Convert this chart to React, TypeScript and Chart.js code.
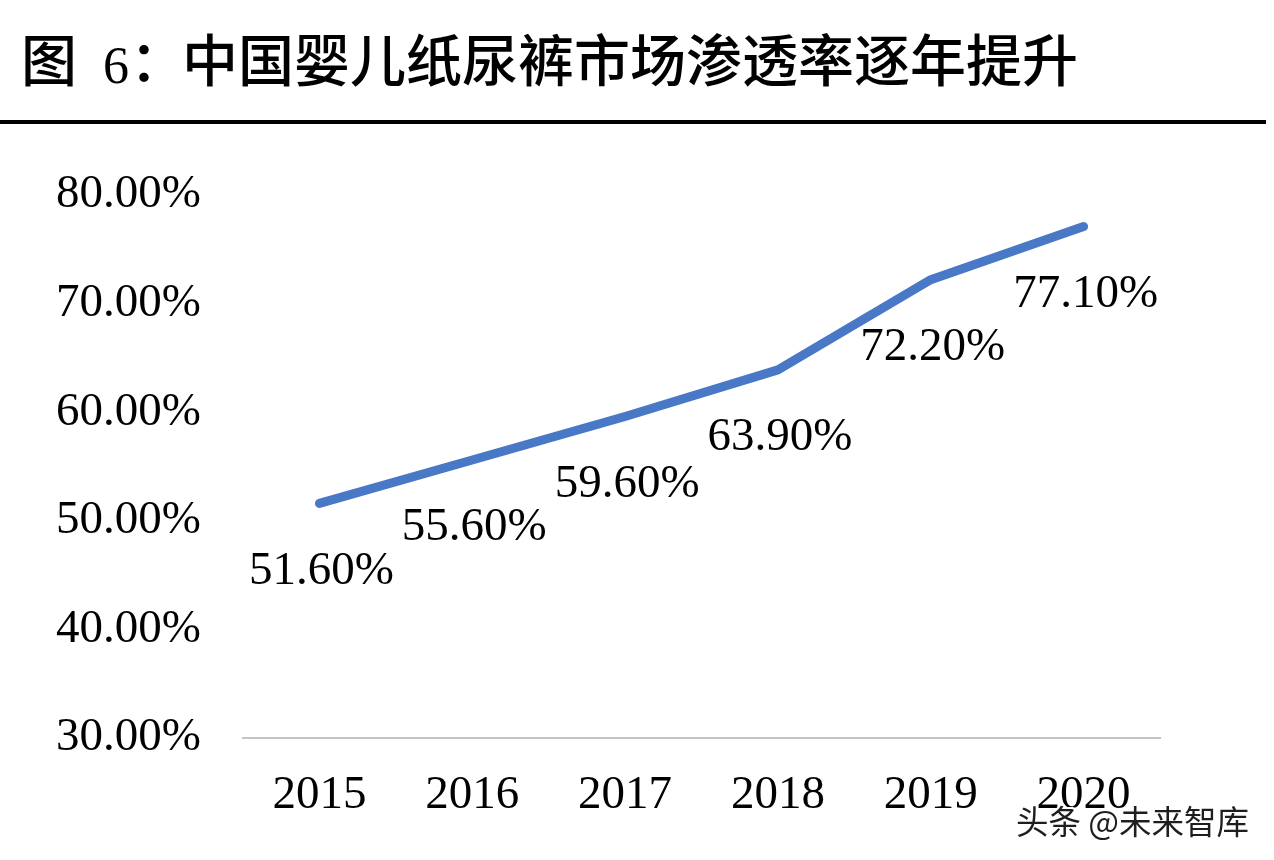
import React, { useEffect, useRef } from "react";
import { Chart, registerables } from "chart.js";

Chart.register(...registerables);

const years = ["2015", "2016", "2017", "2018", "2019", "2020"];
const penetration = [51.6, 55.6, 59.6, 63.9, 72.2, 77.1];
const yMin = 30;
const yMax = 80;
const yStep = 10;
const titlePrefix = "图";
const titleNumber = "6";
const titleColon = "：";
const titleText = "中国婴儿纸尿裤市场渗透率逐年提升";
const watermark = "头条 @未来智库";

const SERIF = "'Liberation Serif', 'Times New Roman', serif";
const CJK = "'Noto Sans CJK SC', 'Noto Sans', sans-serif";

const decorPlugin = {
  id: "decor",
  beforeDraw(chart: any) {
    const ctx = chart.ctx;
    ctx.save();
    ctx.fillStyle = "#ffffff";
    ctx.fillRect(0, 0, chart.width, chart.height);
    ctx.fillStyle = "#000000";
    ctx.textAlign = "left";
    ctx.textBaseline = "middle";
    ctx.font = `500 56px ${CJK}`;
    ctx.fillText(titlePrefix, 21, 60);
    ctx.font = `400 52px ${SERIF}`;
    ctx.textBaseline = "alphabetic";
    ctx.fillText(titleNumber, 103, 83);
    ctx.textBaseline = "middle";
    ctx.font = `500 56px ${CJK}`;
    ctx.fillText(titleColon, 130, 60);
    ctx.fillText(titleText, 182, 60);
    ctx.fillRect(0, 120, 1266, 4);
    ctx.restore();
  },
  afterDatasetsDraw(chart: any) {
    const ctx = chart.ctx;
    const meta = chart.getDatasetMeta(0);
    ctx.save();
    ctx.fillStyle = "#000000";
    ctx.font = `400 47px ${SERIF}`;
    ctx.textAlign = "center";
    ctx.textBaseline = "middle";
    meta.data.forEach((pt: any, i: number) => {
      const v = chart.data.datasets[0].data[i] as number;
      ctx.fillText(v.toFixed(2) + "%", pt.x + 2, pt.y + 68);
    });
    ctx.restore();
  },
  afterDraw(chart: any) {
    const ctx = chart.ctx;
    ctx.save();
    ctx.font = `400 32.5px ${CJK}`;
    ctx.textAlign = "left";
    ctx.textBaseline = "middle";
    ctx.lineWidth = 4;
    ctx.strokeStyle = "rgba(255,255,255,0.95)";
    ctx.lineJoin = "round";
    ctx.strokeText(watermark, 1016, 822);
    ctx.fillStyle = "#1e1e1e";
    ctx.fillText(watermark, 1016, 822);
    ctx.restore();
  },
};

export default function App() {
  const ref = useRef<HTMLCanvasElement>(null);
  useEffect(() => {
    if (!ref.current) return;
    const chart = new Chart(ref.current, {
      type: "line",
      data: {
        labels: years,
        datasets: [
          {
            data: penetration,
            borderColor: "#4878C6",
            backgroundColor: "#4878C6",
            borderWidth: 9,
            pointRadius: 0,
            pointHoverRadius: 0,
            tension: 0,
            fill: false,
            borderCapStyle: "round",
            borderJoinStyle: "round",
          },
        ],
      },
      plugins: [decorPlugin],
      options: {
        responsive: false,
        animation: false,
        events: [],
        layout: { padding: { top: 195, right: 114, bottom: 0, left: 0 } },
        plugins: {
          legend: { display: false },
          tooltip: { enabled: false },
          title: { display: false },
        },
        scales: {
          x: {
            type: "category",
            offset: true,
            grid: { display: false, drawTicks: false },
            border: { display: true, color: "#c4c4c4", width: 2 },
            ticks: {
              color: "#000000",
              font: { family: SERIF, size: 47 },
              padding: 29,
              maxRotation: 0,
              autoSkip: false,
            },
            afterFit: (scale: any) => {
              scale.height = 122;
            },
          },
          y: {
            type: "linear",
            min: yMin,
            max: yMax,
            grid: { display: false, drawTicks: false },
            border: { display: false },
            ticks: {
              stepSize: yStep,
              color: "#000000",
              font: { family: SERIF, size: 47 },
              padding: 42,
              callback: (v: any) => Number(v).toFixed(2) + "%",
            },
            afterFit: (scale: any) => {
              scale.width = 243;
            },
          },
        },
      } as any,
    });
    return () => chart.destroy();
  }, []);
  return (
    <div style={{ position: "fixed", left: 0, top: 0, width: 1274, height: 860, background: "#fff" }}>
      <canvas ref={ref} width={1274} height={860} />
    </div>
  );
}
